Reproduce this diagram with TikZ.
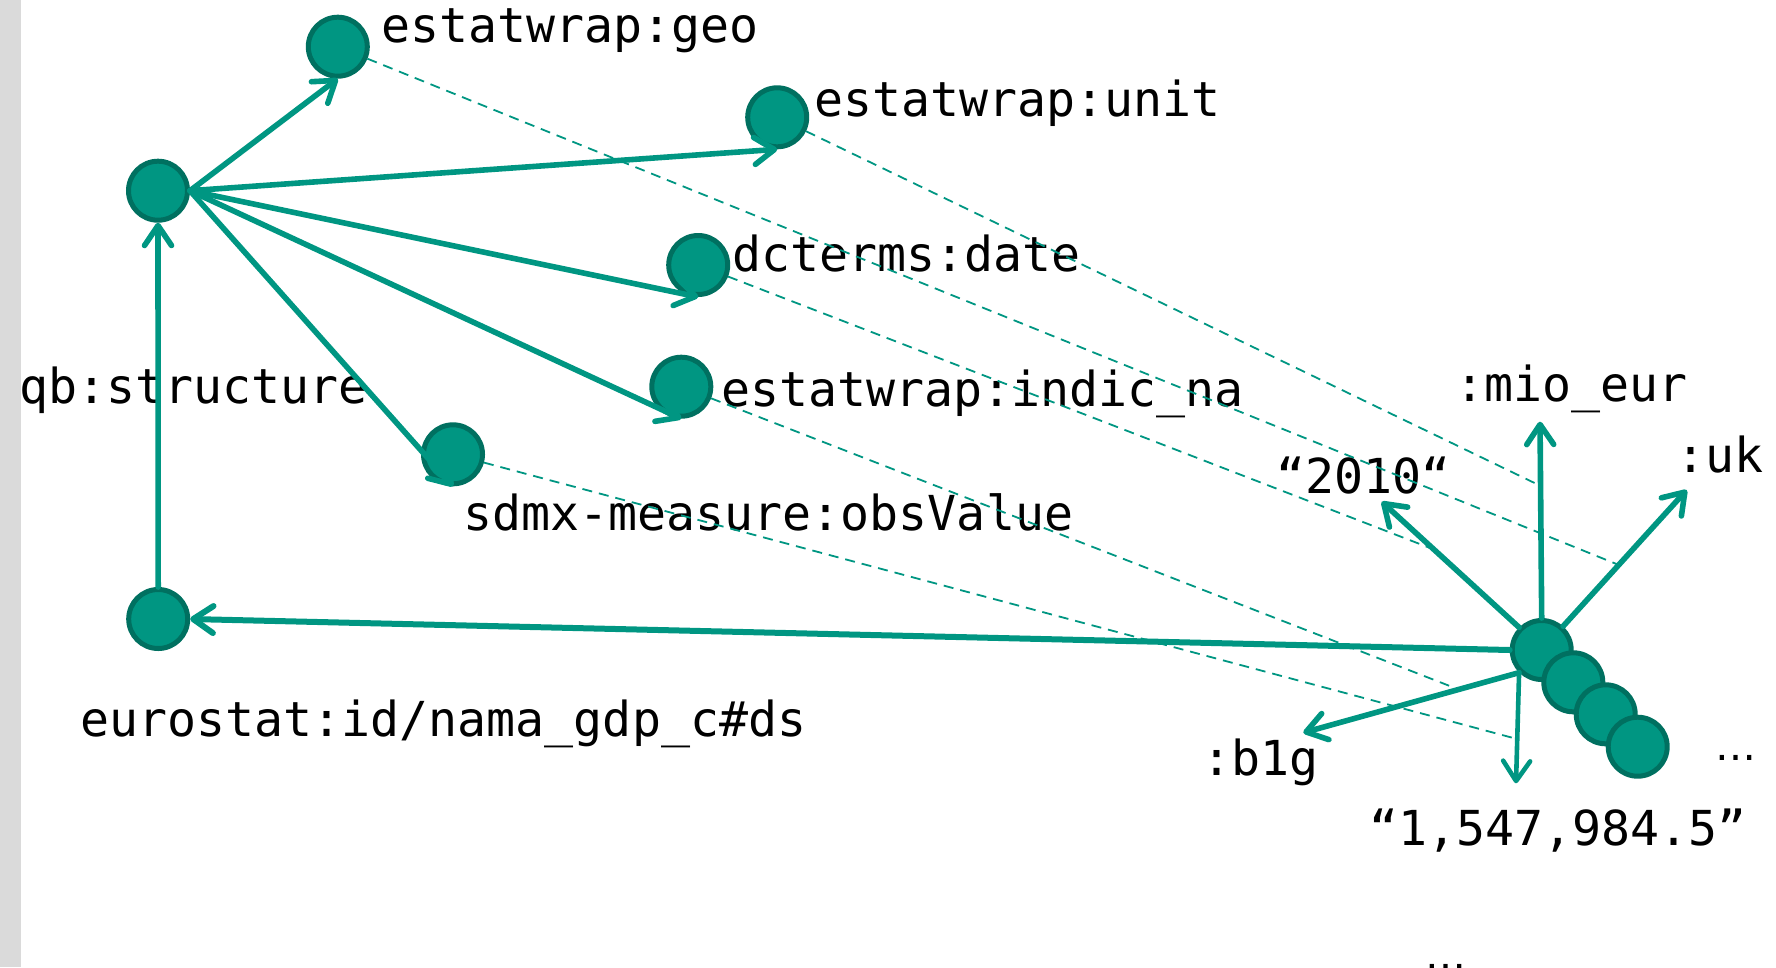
\documentclass[tikz,border=0pt]{standalone}
\usepackage{fontspec}
\setmainfont{DejaVu Sans Mono}
\newfontfamily\dotsfont{DejaVu Sans}
\usetikzlibrary{arrows.meta,calc}
\definecolor{kitgreen}{RGB}{0,150,130}
\definecolor{kitdark}{RGB}{0,112,96}
\definecolor{bargray}{RGB}{218,218,218}
\begin{document}
\begin{tikzpicture}[x=1pt,y=-1pt,
  res/.style={circle, fill=kitgreen, draw=kitdark, line width=5pt, minimum size=59pt, inner sep=0pt},
  lbl/.style={anchor=base west, inner sep=0pt, font=\fontsize{48.2}{58}\selectfont, text=black},
  more/.style={anchor=base west, inner sep=0pt, font=\dotsfont\fontsize{41}{50}\selectfont, text=black},
  rel/.style={draw=kitgreen, line width=5.6pt, line cap=round, -{Straight Barb[length=20pt,width=27pt,round]}},
  map/.style={draw=kitgreen, line width=1.8pt, dash pattern=on 10pt off 7pt}]
\useasboundingbox (0,0) rectangle (1776,967);
\fill[bargray] (0,0) rectangle (21,967);

% data structure definition and its component properties
\node[res] (dsd)   at (158,190.7) {};
\node[res] (geo)   at (337.8,46.7) {};
\node[res] (unit)  at (777.2,117.3) {};
\node[res] (date)  at (698.2,265) {};
\node[res] (indic) at (681.3,386.7) {};
\node[res] (val)   at (453,454.3) {};
\node[res] (ds)    at (158.2,619) {};

% observations
\node[res] (obs1) at (1541.7,650) {};
\node[res] (obs2) at (1573.3,682.3) {};
\node[res] (obs3) at (1605.7,714.3) {};
\node[res] (obs4) at (1637.7,746.7) {};

% labels
\node[lbl] (lgeo)   at (381.5,42.7)  {estatwrap:geo};
\node[lbl] (lunit)  at (814.5,116.7) {estatwrap:unit};
\node[lbl] (ldate)  at (732.5,271.7) {dcterms:date};
\node[lbl] (lindic) at (721.5,406)   {estatwrap:indic\_na};
\node[lbl] (lval)   at (463.5,530)   {sdmx-measure:obsValue};
\node[lbl] (lstruc) at (19.5,403.3)  {qb:structure};
\node[lbl] (lds)    at (80.5,736.7)  {eurostat:id/nama\_gdp\_c\#ds};
\node[lbl] (lmio)   at (1455.5,401.7) {:mio\_eur};
\node[lbl] (luk)    at (1676,472.7) {:uk};
\node[lbl] (lyear)  at (1276,493.3) {“2010“};
\node[lbl] (lb1g)   at (1202,775)   {:b1g};
\node[lbl] (lnum)   at (1369,845)   {“1,547,984.5”};
\node[more] (lmore) at (1715,760)   {…};
\node[more] (lrest) at (1425,969)   {…};

% tips of the observation's arrows
\coordinate (tYear) at (1381.7,501.7);
\coordinate (tUnit) at (1540,421.7);
\coordinate (tGeo)  at (1686.7,490);
\coordinate (tInd)  at (1303.3,732.7);
\coordinate (tVal)  at (1516,783.3);

% points where the dashed property links meet the arrows
\coordinate (eGeo)  at ($(obs1.48)!0.45!(tGeo)$);
\coordinate (eUnit) at ($(obs1.north)!0.673!(tUnit)$);
\coordinate (eDate) at ($(obs1.135)!0.62!(tYear)$);
\coordinate (eInd)  at ($(obs1.225)!0.28!(tInd)$);
\coordinate (eVal)  at ($(obs1.225)!0.6!(tVal)$);

% dashed links from each property to the value it types
\draw[map] (geo) -- (eGeo);
\draw[map] (unit) -- (eUnit);
\draw[map] (date) -- (eDate);
\draw[map] (indic) -- (eInd);
\draw[map] (val) -- (eVal);

% structure arrows
\draw[rel] (dsd.east) -- (geo.south);
\draw[rel] (dsd.east) -- (unit.south);
\draw[rel] (dsd.east) -- (date.south);
\draw[rel] (dsd.east) -- (indic.south);
\draw[rel] (dsd.east) -- (val.south);
\draw[rel] (ds.north) -- (dsd.south);

% observation arrows
\draw[rel, line width=6pt] (obs1.west) -- (ds.east);
\draw[rel] (obs1.135) -- (tYear);
\draw[rel] (obs1.north) -- (tUnit);
\draw[rel] (obs1.48) -- (tGeo);
\draw[rel] (obs1.225) -- (tInd);
\draw[rel, line width=4.6pt] (obs1.225) -- (tVal);
\end{tikzpicture}
\end{document}
